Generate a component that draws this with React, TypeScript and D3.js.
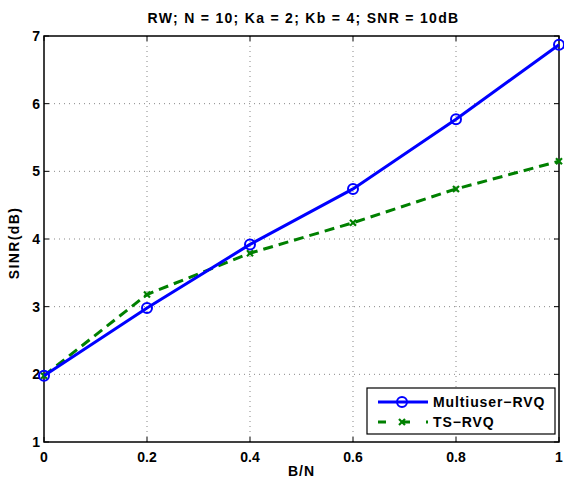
import React from "react";
import * as d3 from "d3";

const xValues = [0, 0.2, 0.4, 0.6, 0.8, 1];
const multiuser = [1.98, 2.98, 3.92, 4.74, 5.77, 6.87];
const tsRvq = [1.98, 3.18, 3.79, 4.24, 4.74, 5.15];
const xTicks = [0, 0.2, 0.4, 0.6, 0.8, 1];
const yTicks = [1, 2, 3, 4, 5, 6, 7];
const seriesNames = ["Multiuser\u2212RVQ", "TS\u2212RVQ"];
const title = "RW; N = 10; Ka = 2; Kb = 4; SNR = 10dB";

export default function App() {
  const W = 564, H = 482;
  const L = 44, R = 559, T = 36, B = 442;
  const x = d3.scaleLinear().domain([0, 1]).range([L, R]);
  const y = d3.scaleLinear().domain([1, 7]).range([B, T]);
  const line = d3.line<number>().x((_, i) => x(xValues[i])).y((d) => y(d));
  const font = "'Liberation Sans', Arial, Helvetica, sans-serif";
  const blue = "#0000ff";
  const green = "#008000";
  const tick = 5;
  const xMark = (cx: number, cy: number, k: string) => (
    <g key={k} stroke={green} strokeWidth={2.2}>
      <line x1={cx - 3} y1={cy - 3} x2={cx + 3} y2={cy + 3} />
      <line x1={cx - 3} y1={cy + 3} x2={cx + 3} y2={cy - 3} />
    </g>
  );
  const lx = 367, ly = 388, lw = 188, lh = 46;
  return (
    <svg width={W} height={H} style={{ position: "absolute", left: 0, top: 0 }} fontFamily={font}>
      <rect x={0} y={0} width={W} height={H} fill="#fff" />
      {/* grid */}
      {xTicks.slice(1, -1).map((t) => (
        <line key={"gx" + t} x1={x(t)} x2={x(t)} y1={T} y2={B} stroke="#555" strokeWidth={0.7} strokeDasharray="1,4" />
      ))}
      {yTicks.slice(1, -1).map((t) => (
        <line key={"gy" + t} x1={L} x2={R} y1={y(t)} y2={y(t)} stroke="#555" strokeWidth={0.7} strokeDasharray="1,4" />
      ))}
      {/* ticks */}
      {xTicks.map((t) => (
        <g key={"tx" + t} stroke="#000" strokeWidth={1}>
          <line x1={x(t)} x2={x(t)} y1={B} y2={B - tick} />
          <line x1={x(t)} x2={x(t)} y1={T} y2={T + tick} />
        </g>
      ))}
      {yTicks.map((t) => (
        <g key={"ty" + t} stroke="#000" strokeWidth={1}>
          <line x1={L} x2={L + tick} y1={y(t)} y2={y(t)} />
          <line x1={R} x2={R - tick} y1={y(t)} y2={y(t)} />
        </g>
      ))}
      <rect x={L} y={T} width={R - L} height={B - T} fill="none" stroke="#000" strokeWidth={1.5} />
      {/* tick labels */}
      {xTicks.map((t) => (
        <text key={"lx" + t} x={x(t)} y={B + 20} textAnchor="middle" fontSize={14} fontWeight="bold">
          {String(t)}
        </text>
      ))}
      {yTicks.map((t) => (
        <text key={"ly" + t} x={L - 4} y={y(t) + 5} textAnchor="end" fontSize={14} fontWeight="bold">
          {String(t)}
        </text>
      ))}
      <text x={(L + R) / 2} y={476} textAnchor="middle" fontSize={14} fontWeight="bold" letterSpacing={1}>B/N</text>
      <text transform={`translate(18.5,243) rotate(-90)`} textAnchor="middle" fontSize={14} fontWeight="bold" letterSpacing={1.4}>SINR(dB)</text>
      <text x={303.5} y={23} textAnchor="middle" fontSize={14} fontWeight="bold" letterSpacing={1.3}>{title}</text>
      {/* series */}
      <path d={line(tsRvq) || ""} fill="none" stroke={green} strokeWidth={3} strokeDasharray="10,6" />
      {tsRvq.map((v, i) => xMark(x(xValues[i]), y(v), "m" + i))}
      <path d={line(multiuser) || ""} fill="none" stroke={blue} strokeWidth={3} />
      {multiuser.map((v, i) => (
        <circle key={"c" + i} cx={x(xValues[i])} cy={y(v)} r={5} fill="none" stroke={blue} strokeWidth={2} />
      ))}
      {/* legend */}
      <rect x={lx} y={ly} width={lw} height={lh} fill="#fff" stroke="#000" strokeWidth={1.2} />
      <line x1={lx + 11} x2={lx + 61} y1={ly + 14} y2={ly + 14} stroke={blue} strokeWidth={3} />
      <circle cx={lx + 35} cy={ly + 14} r={5} fill="none" stroke={blue} strokeWidth={2} />
      <text x={lx + 66} y={ly + 19} fontSize={14} fontWeight="bold" letterSpacing={0.9}>{seriesNames[0]}</text>
      <line x1={lx + 11} x2={lx + 61} y1={ly + 34} y2={ly + 34} stroke={green} strokeWidth={3} strokeDasharray="8,16" />
      {xMark(lx + 35, ly + 34, "lm")}
      <text x={lx + 66} y={ly + 39} fontSize={14} fontWeight="bold" letterSpacing={0.9}>{seriesNames[1]}</text>
    </svg>
  );
}
